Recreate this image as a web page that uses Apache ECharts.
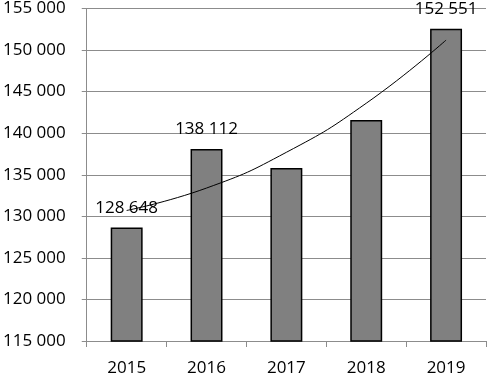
<!DOCTYPE html>
<html>
<head>
<meta charset="utf-8">
<script src="https://cdn.jsdelivr.net/npm/echarts@6/dist/echarts.min.js"></script>
<style>
  html, body { margin: 0; padding: 0; background: #fff; }
  #chart { width: 487px; height: 377px; }
</style>
</head>
<body>
<div id="chart"></div>
<script>
const years = ['2015', '2016', '2017', '2018', '2019'];
const values = [128648, 138112, 135800, 141600, 152551];
// which bars carry a value label
const labelled = [true, true, false, false, true];
// polynomial trend line at each year
const trend = [130700, 133400, 137700, 143600, 151200];

const fontFamily = '"Open Sans", "Liberation Sans", sans-serif';
const fmt = v => String(v).replace(/\B(?=(\d{3})+(?!\d))/g, ' ');

const chart = echarts.init(document.getElementById('chart'));

let barData = values.map((v, i) => ({
    value: v,
    label: { show: labelled[i] }
}));

chart.setOption({
    animation: false,
    grid: { left: 85, right: 1, top: 8, bottom: 34, containLabel: false },
    xAxis: {
        type: 'category',
        data: years,
        axisLine: { lineStyle: { color: '#8c8c8c', width: 1 } },
        axisTick: { show: true, length: 6, lineStyle: { color: '#8c8c8c' } },
        axisLabel: { color: '#000', fontSize: 17, fontFamily: fontFamily, margin: 19 }
    },
    yAxis: {
        type: 'value',
        min: 115000,
        max: 155000,
        interval: 5000,
        axisLine: { show: true, lineStyle: { color: '#8c8c8c', width: 1 } },
        axisTick: { show: true, length: 5, lineStyle: { color: '#8c8c8c' } },
        splitLine: { lineStyle: { color: '#8c8c8c', width: 1 } },
        axisLabel: {
            color: '#000', fontSize: 17, fontFamily: fontFamily, margin: 21,
            formatter: fmt
        }
    },
    series: [
        {
            type: 'bar',
            data: barData,
            barWidth: '40%',
            itemStyle: { color: '#808080', borderColor: '#000', borderWidth: 1.5 },
            label: {
                position: 'top',
                distance: 11,
                color: '#000',
                fontSize: 17,
                fontFamily: fontFamily,
                formatter: p => fmt(p.value)
            },
            z: 2
        },
        {
            type: 'line',
            data: trend,
            smooth: true,
            symbol: 'none',
            lineStyle: { color: '#000', width: 1 },
            z: 3
        }
    ]
});
</script>
</body>
</html>
